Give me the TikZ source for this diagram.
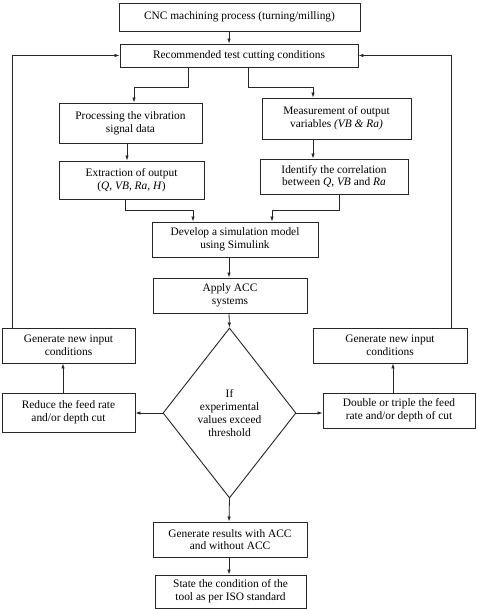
\documentclass[tikz,border=0pt]{standalone}
\usepackage{fontspec}
\setmainfont{Liberation Serif}
\usetikzlibrary{shapes.geometric,arrows.meta}
\begin{document}
\begin{tikzpicture}[x=1pt, y=-1pt,
    font=\fontsize{11.4}{12.7}\selectfont,
    % estilos
    flow box/.style={
        draw=black!85,
        line width=0.9pt,
        align=center,
        inner sep=1pt
    },
    decision/.style={
        draw=black!85,
        line width=0.9pt,
        diamond,
        align=center,
        inner sep=0pt,
        minimum width=133,
        minimum height=170
    },
    flow/.style={
        draw=black!85,
        line width=0.8pt,
        -{Latex[length=5pt,width=3.5pt]}
    }
]
    \useasboundingbox[fill=white] (0,0) rectangle (476,609);

    % --- BLOQUES ---
    \node[flow box, minimum width=241, minimum height=28] (cnc) at (239.5,17) {CNC machining process (turning/milling)};
    \node[flow box, minimum width=238, minimum height=23] (rec) at (239,55.5) {Recommended test cutting conditions};

    \node[flow box, minimum width=143, minimum height=40] (proc) at (130.5,123) {Processing the vibration\\signal data};
    \node[flow box, minimum width=149, minimum height=41] (meas) at (336.5,118.5) {Measurement of output\\variables \textit{(VB \& Ra)}};

    \node[flow box, minimum width=145, minimum height=38] (extr) at (131.5,180) {Extraction of output\\(\textit{Q}, \textit{VB}, \textit{Ra}, \textit{H})};
    \node[flow box, minimum width=148, minimum height=35] (iden) at (334,176.5) {Identify the correlation\\between \textit{Q}, \textit{VB} and \textit{Ra}};

    \node[flow box, minimum width=166, minimum height=35] (dev) at (235,239.5) {Develop a simulation model\\using Simulink};
    \node[flow box, minimum width=154, minimum height=35] (acc) at (230,295.5) {Apply ACC\\systems};

    \node[decision] (dec) at (229.5,413) {If\\experimental\\values exceed\\threshold};

    \node[flow box, minimum width=133, minimum height=35] (genL) at (68.5,345.5) {Generate new input\\conditions};
    \node[flow box, minimum width=133, minimum height=39] (redL) at (68.5,412.5) {Reduce the feed rate\\and/or depth cut};
    \node[flow box, minimum width=154, minimum height=35] (genR) at (390,345.5) {Generate new input\\conditions};
    \node[flow box, minimum width=152, minimum height=35] (dblR) at (399,410.5) {Double or triple the feed\\rate and/or depth of cut};

    \node[flow box, minimum width=154, minimum height=35] (res) at (230,539.5) {Generate results with ACC\\and without ACC};
    \node[flow box, minimum width=151, minimum height=33] (iso) at (230.5,591.5) {State the condition of the\\tool as per ISO standard};

    % --- PUNTOS DE QUIEBRE ---
    \coordinate (busA) at (0,87);
    \coordinate (busB) at (0,210);
    \coordinate (loopL) at (12,0);
    \coordinate (loopR) at (451,0);

    % --- CONEXIONES ---
    \draw[flow] ([xshift=-10.5pt]cnc.south) -- ([xshift=-10pt]rec.north);
    \draw[flow] ([xshift=-51pt]rec.south) |- ([xshift=3.5pt]proc.north |- busA) -- ([xshift=3.5pt]proc.north);
    \draw[flow] ([xshift=9pt]rec.south) |- ([xshift=-23.5pt]meas.north |- busA) -- ([xshift=-23.5pt]meas.north);
    \draw[flow] ([xshift=-3.5pt]proc.south) -- ([xshift=-4.5pt]extr.north);
    \draw[flow] ([xshift=-23.5pt]meas.south) -- ([xshift=-21pt]iden.north);
    \draw[flow] ([xshift=-6.5pt]extr.south) |- ([xshift=-42pt]dev.north |- busB) -- ([xshift=-42pt]dev.north);
    \draw[flow] ([xshift=5pt]iden.south) |- ([xshift=37pt]dev.north |- busB) -- ([xshift=37pt]dev.north);
    \draw[flow] ([xshift=-6pt]dev.south) -- ([xshift=-1pt]acc.north);
    \draw[flow] ([xshift=-1pt]acc.south) -- (dec.north);
    \draw[flow] (dec.west) -- (dec.west -| redL.east);
    \draw[flow] (dec.east) -- (dec.east -| dblR.west);
    \draw[flow] ([xshift=-5.5pt]redL.north) -- ([xshift=-5.5pt]genL.south);
    \draw[flow] ([xshift=-6pt]dblR.north) -- ([xshift=3pt]genR.south);
    \draw[flow] (genL.north -| loopL) |- (rec.west);
    \draw[flow] (genR.north -| loopR) |- (rec.east);
    \draw[flow] (dec.south) -- ([xshift=-1pt]res.north);
    \draw[flow] ([xshift=-1pt]res.south) -- ([xshift=-1.5pt]iso.north);
\end{tikzpicture}
\end{document}
